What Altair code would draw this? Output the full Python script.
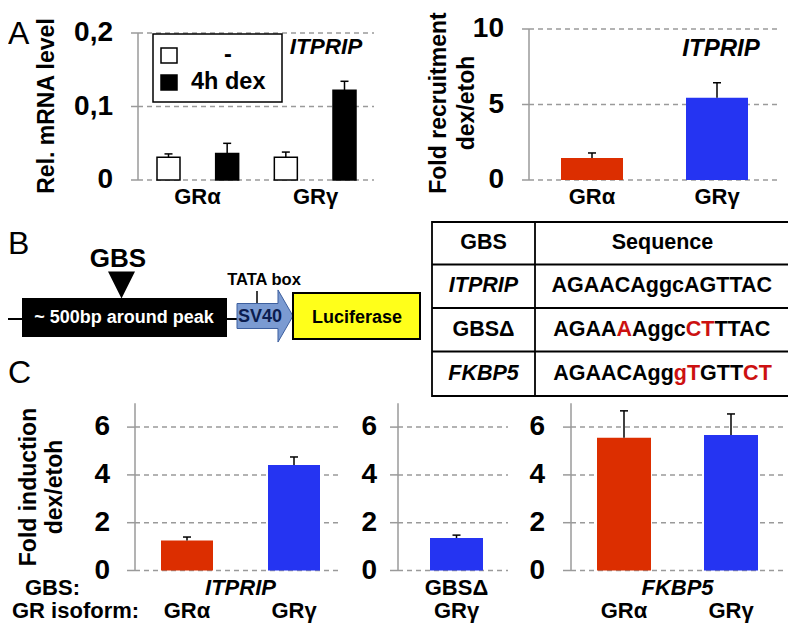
import altair as alt
import pandas as pd

# ---------------- data ----------------
# A (left): relative ITPRIP mRNA level
a1_isoform = ["GRα", "GRα", "GRγ", "GRγ"]
a1_treatment = ["-", "4h dex", "-", "4h dex"]
a1_value = [0.031, 0.036, 0.031, 0.122]
a1_error = [0.0045, 0.0139, 0.007, 0.0123]
a1_ticks = [0, 0.1, 0.2]
a1_tick_labels = ["0", "0,1", "0,2"]
legend_labels = ["-", "4h dex"]

# A (right): fold recruitment
a2_isoform = ["GRα", "GRγ"]
a2_value = [1.46, 5.45]
a2_error = [0.33, 0.99]
a2_ticks = [0, 5, 10]
a2_tick_labels = ["0", "5", "10"]

# C: fold induction
c_ticks = [0, 2, 4, 6]
c_tick_labels = ["0", "2", "4", "6"]
c1_gbs, c1_isoform, c1_value, c1_error = "ITPRIP", ["GRα", "GRγ"], [1.26, 4.41], [0.14, 0.34]
c2_gbs, c2_isoform, c2_value, c2_error = "GBSΔ", ["GRγ"], [1.36], [0.12]
c3_gbs, c3_isoform, c3_value, c3_error = "FKBP5", ["GRα", "GRγ"], [5.55, 5.67], [1.13, 0.88]

# B: table
table_header = ["GBS", "Sequence"]
table_gbs = ["ITPRIP", "GBSΔ", "FKBP5"]
table_seq = [
    [("AGAACAggcAGTTAC", False)],
    [("AGAA", False), ("A", True), ("Aggc", False), ("CT", True), ("TTAC", False)],
    [("AGAACAgg", False), ("gT", True), ("GTT", False), ("CT", True)],
]
gene_names = {"ITPRIP", "FKBP5"}

# ---------------- style ----------------
FONT = "Liberation Sans"
RED = "#dc2e00"
BLUE = "#2534f2"
GRAY = "#9a9a9a"
MUT_RED = "#cc1111"
SV40_BLUE = "#7b9bd2"
YELLOW = "#ffff1a"
ISO_COLOR = {"GRα": RED, "GRγ": BLUE}
TREAT_FILL = {"-": "white", "4h dex": "black"}
TICK_FONT = 28
M = 8  # page margin


def P(v):
    return v - M


IMG_X = alt.Scale(domain=[0, 796], range=[-M, 796 - M], nice=False, zero=False)
IMG_Y = alt.Scale(domain=[0, 633], range=[-M, 633 - M], nice=False, zero=False)


def band(cats, x0, x1, w):
    n = len(cats)
    pi = 0 if n == 1 else 1 - w / ((x1 - x0 - w) / (n - 1))
    return alt.Scale(type="band", domain=cats, range=[P(x0), P(x1)],
                     paddingInner=pi, paddingOuter=0)


def texts(rows, size, weight="bold", style="normal", color="black",
          align="center", angle=0):
    df = pd.DataFrame(rows, columns=["t", "x", "y"])
    return alt.Chart(df).mark_text(
        font=FONT, fontSize=size, fontWeight=weight, fontStyle=style,
        color=color, align=align, baseline="middle", angle=angle
    ).encode(x=alt.X("x:Q", scale=IMG_X, axis=None),
             y=alt.Y("y:Q", scale=IMG_Y, axis=None), text="t:N")


def rects(rows, fill, stroke=None, sw=0):
    df = pd.DataFrame(rows, columns=["x", "x2", "y", "y2"])
    kw = dict(fill=fill)
    if stroke:
        kw.update(stroke=stroke, strokeWidth=sw)
    return alt.Chart(df).mark_rect(**kw).encode(
        x=alt.X("x:Q", scale=IMG_X, axis=None), x2="x2:Q",
        y=alt.Y("y:Q", scale=IMG_Y, axis=None), y2="y2:Q")


def rules(rows, color="black", sw=2):
    df = pd.DataFrame(rows, columns=["x", "x2", "y", "y2"])
    return alt.Chart(df).mark_rule(color=color, strokeWidth=sw).encode(
        x=alt.X("x:Q", scale=IMG_X, axis=None), x2="x2:Q",
        y=alt.Y("y:Q", scale=IMG_Y, axis=None), y2="y2:Q")


def symbol(path, cx, cy, width, fill, stroke=None):
    kw = dict(shape=path, size=width * width, filled=True, fill=fill, opacity=1)
    if stroke:
        kw.update(stroke=stroke, strokeWidth=1)
    return alt.Chart(pd.DataFrame({"x": [cx], "y": [cy]})).mark_point(**kw).encode(
        x=alt.X("x:Q", scale=IMG_X, axis=None), y=alt.Y("y:Q", scale=IMG_Y, axis=None))


def bar_panel(keys, values, errors, fills, y_dom, y0, ytop, ticks, tick_labels,
              axis_x, grid_x0, grid_x1, bar_x0, bar_x1, bar_w, label_right,
              tick_size=TICK_FONT, bar_stroke=None):
    ys = alt.Scale(domain=y_dom, range=[P(y0), P(ytop)], nice=False, zero=False)
    xs = band(keys, bar_x0, bar_x1, bar_w)
    tdf = pd.DataFrame({"t": ticks, "lab": tick_labels})
    grid = alt.Chart(tdf).mark_rule(color=GRAY, strokeWidth=1.5, strokeDash=[5, 4]).encode(
        y=alt.Y("t:Q", scale=ys, axis=None), x=alt.value(P(axis_x)), x2=alt.value(P(grid_x1)))
    tick = alt.Chart(tdf).mark_rule(color=GRAY, strokeWidth=1.5).encode(
        y=alt.Y("t:Q", scale=ys, axis=None), x=alt.value(P(grid_x0)), x2=alt.value(P(axis_x)))
    dom = alt.Chart(pd.DataFrame({"lo": [y_dom[0]], "hi": [y_dom[1]]})).mark_rule(
        color=GRAY, strokeWidth=1.5).encode(
        x=alt.value(P(axis_x)), y=alt.Y("lo:Q", scale=ys, axis=None), y2="hi:Q")
    labs = alt.Chart(tdf).mark_text(font=FONT, fontSize=tick_size, fontWeight="bold",
                                    align="right", baseline="middle").encode(
        x=alt.value(P(label_right)), y=alt.Y("t:Q", scale=ys, axis=None), text="lab:N")
    df = pd.DataFrame({"k": keys, "v": values, "e": errors, "f": fills})
    df["hi"] = df["v"] + df["e"]
    bkw = dict(stroke=bar_stroke, strokeWidth=1.5) if bar_stroke else dict(strokeWidth=0)
    bars = alt.Chart(df).mark_bar(**bkw).encode(
        x=alt.X("k:N", scale=xs, axis=None), y=alt.Y("v:Q", scale=ys, axis=None),
        fill=alt.Fill("f:N", scale=None))
    err = alt.Chart(df).mark_rule(color="black", strokeWidth=1.5).encode(
        x=alt.X("k:N", scale=xs, axis=None), y=alt.Y("v:Q", scale=ys, axis=None), y2="hi:Q")
    cap = alt.Chart(df).mark_tick(color="black", thickness=1.5, size=8, opacity=1).encode(
        x=alt.X("k:N", scale=xs, axis=None), y=alt.Y("hi:Q", scale=ys, axis=None))
    return [grid, tick, dom, bars, err, cap, labs]


def xlabels(cats, scale, y, size=22, style="normal"):
    return alt.Chart(pd.DataFrame({"c": cats})).mark_text(
        font=FONT, fontSize=size, fontWeight="bold", fontStyle=style, baseline="middle"
    ).encode(x=alt.X("c:N", scale=scale, axis=None), y=alt.value(P(y)), text="c:N")


layers = []

# ---------- A left ----------
a1_keys = [f"{i} {t}" for i, t in zip(a1_isoform, a1_treatment)]
layers += bar_panel(a1_keys, a1_value, a1_error, [TREAT_FILL[t] for t in a1_treatment],
                    [0, 0.2], 180, 33, a1_ticks, a1_tick_labels,
                    axis_x=138, grid_x0=131, grid_x1=374, bar_x0=157, bar_x1=356,
                    bar_w=23, label_right=113, bar_stroke="black")
a1_groups = list(dict.fromkeys(a1_isoform))
layers.append(xlabels(a1_groups, band(a1_groups, 157, 356, 81), 197))
# legend
layers.append(rects([(153, 282, 34, 102)], "white", "black", 1.5))
layers.append(rects([(161, 177, 48, 63)], TREAT_FILL[legend_labels[0]], "black", 1.5))
layers.append(rects([(161, 177, 75, 90)], TREAT_FILL[legend_labels[1]], "black", 1.5))
layers.append(texts([(legend_labels[0], 228, 55)], 23.5))
layers.append(texts([(legend_labels[1], 191, 82)], 23.5, align="left"))
layers.append(texts([("ITPRIP", 326, 47)], 22.5, style="italic"))
layers.append(texts([("Rel. mRNA level", 47, 106)], 23, angle=270))

# ---------- A right ----------
layers += bar_panel(a2_isoform, a2_value, a2_error, [ISO_COLOR[i] for i in a2_isoform],
                    [0, 10], 180, 29, a2_ticks, a2_tick_labels,
                    axis_x=529, grid_x0=522, grid_x1=780, bar_x0=561, bar_x1=748,
                    bar_w=62, label_right=504)
layers.append(xlabels(a2_isoform, band(a2_isoform, 561, 748, 62), 197))
layers.append(texts([("ITPRIP", 721, 49)], 24, style="italic"))
layers.append(texts([("Fold recruitment", 439, 103), ("dex/etoh", 467, 103)], 23, angle=270))

# ---------- B schematic ----------
layers.append(rules([(8, 22, 319, 319), (227, 238, 319, 319)], sw=2))
layers.append(rects([(22, 227, 298, 337)], "black"))
layers.append(symbol("M-1,-1L1,-1L0,1Z", 121.5, 285, 27, "black"))
layers.append(symbol("M-1,-0.446L0.464,-0.446L0.464,-0.93L1,0L0.464,0.93L0.464,0.446L-1,0.446Z",
                     265, 316, 56, SV40_BLUE, "#3d5f9e"))
layers.append(rules([(257, 257, 291, 303)], sw=1.5))
layers.append(rects([(293, 420, 293, 339)], YELLOW, "black", 2))
layers.append(texts([("GBS", 118, 259)], 26))
layers.append(texts([("~ 500bp around peak", 124, 318)], 18, color="white"))
layers.append(texts([("SV40", 260, 317)], 18, color="#0b1d4f"))
layers.append(texts([("TATA box", 264, 279.5)], 16.5))
layers.append(texts([("Luciferase", 357, 318)], 18))

# ---------- B table ----------
TBL_X = [432, 535, 791]
TBL_Y = [222, 264.5, 308, 351.5, 396]
TBL_FONT = 21.5
layers.append(rects([(TBL_X[0], TBL_X[2], TBL_Y[0], TBL_Y[-1])], "white", "black", 1.8))
layers.append(rules([(TBL_X[1], TBL_X[1], TBL_Y[0], TBL_Y[-1])] +
                    [(TBL_X[0], TBL_X[2], y, y) for y in TBL_Y[1:-1]], sw=1.8))
row_mid = [(TBL_Y[i] + TBL_Y[i + 1]) / 2 for i in range(4)]
col1_c = (TBL_X[0] + TBL_X[1]) / 2
col2_c = (TBL_X[1] + TBL_X[2]) / 2 - 0.5
layers.append(texts([(table_header[0], col1_c, row_mid[0]),
                     (table_header[1], col2_c, row_mid[0])], TBL_FONT))
layers.append(texts([(g, col1_c, row_mid[i + 1]) for i, g in enumerate(table_gbs) if g in gene_names],
                    TBL_FONT, style="italic"))
layers.append(texts([(g, col1_c, row_mid[i + 1]) for i, g in enumerate(table_gbs) if g not in gene_names],
                    TBL_FONT))
CHAR_W = {"A": 722, "G": 778, "C": 722, "T": 611, "g": 611, "c": 556}
seg_rows = []
for i, segs in enumerate(table_seq):
    total = sum(CHAR_W[ch] for s, _ in segs for ch in s) * TBL_FONT / 1000
    x = col2_c - total / 2
    for s, mut in segs:
        seg_rows.append((s, x, row_mid[i + 1], MUT_RED if mut else "black"))
        x += sum(CHAR_W[ch] for ch in s) * TBL_FONT / 1000
seg_df = pd.DataFrame(seg_rows, columns=["t", "x", "y", "c"])
layers.append(alt.Chart(seg_df).mark_text(font=FONT, fontSize=TBL_FONT, fontWeight="bold",
                                          align="left", baseline="middle").encode(
    x=alt.X("x:Q", scale=IMG_X, axis=None), y=alt.Y("y:Q", scale=IMG_Y, axis=None),
    text="t:N", color=alt.Color("c:N", scale=None)))

# ---------- C ----------
C_Y0, C_TOP = 570.5, 570.5 - 7 * 23.9
GBS_ROW_Y, ISO_ROW_Y = 588, 611
ROW_FONT = 22
c_panels = [
    (c1_gbs, c1_isoform, c1_value, c1_error, 135, 127, 340, 161, 320, 52, 110),
    (c2_gbs, c2_isoform, c2_value, c2_error, 398, 390, 508, 430, 483, 53, 377),
    (c3_gbs, c3_isoform, c3_value, c3_error, 571, 563, 785, 597, 758, 54, 545),
]
for gbs, iso, val, err, ax, g0, g1, b0, b1, bw, lr in c_panels:
    layers += bar_panel(iso, val, err, [ISO_COLOR[i] for i in iso], [0, 7], C_Y0, C_TOP,
                        c_ticks, c_tick_labels, axis_x=ax, grid_x0=g0, grid_x1=g1,
                        bar_x0=b0, bar_x1=b1, bar_w=bw, label_right=lr)
    layers.append(xlabels(iso, band(iso, b0, b1, bw), ISO_ROW_Y, size=ROW_FONT))
    layers.append(texts([(gbs, (b0 + b1) / 2, GBS_ROW_Y)], ROW_FONT,
                        style="italic" if gbs in gene_names else "normal"))
layers.append(texts([("GBS:", 25, GBS_ROW_Y), ("GR isoform:", 12, ISO_ROW_Y)], ROW_FONT,
                    align="left"))
layers.append(texts([("Fold induction", 29, 487), ("dex/etoh", 55, 487)], 23, angle=270))

# ---------- panel letters ----------
layers.append(texts([("A", 8, 34), ("B", 8, 244), ("C", 8, 373)], 32, weight="normal",
                    align="left"))

chart = alt.layer(*layers).resolve_scale(x="independent", y="independent").properties(
    width=780, height=617, padding=0, autosize=alt.AutoSizeParams(type="none")
).configure_view(stroke=None)

chart.save("out.html", embed_options={"renderer": "svg", "actions": False})
